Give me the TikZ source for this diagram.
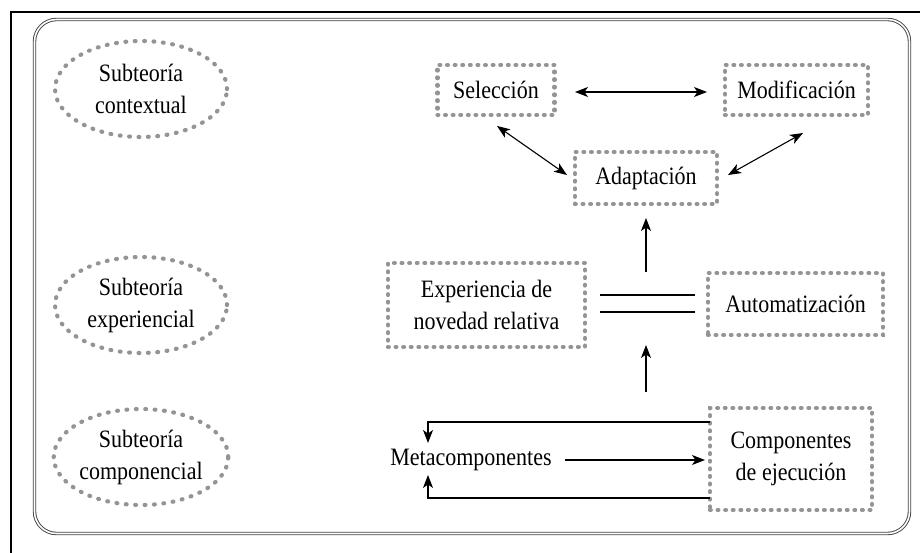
\documentclass[tikz,border=0pt]{standalone}
\usepackage{fontspec}
\setmainfont{Liberation Serif}[FakeStretch=0.88]
\usetikzlibrary{shapes.geometric,arrows.meta}
\begin{document}
\begin{tikzpicture}[x=1pt,y=-1pt,
  dots/.style={draw=black!42, line width=4.2pt, line cap=round, dash pattern=on 0.8pt off 6.8pt},
  oval/.style={ellipse, dots, dash pattern=on 0.8pt off 8.6pt, minimum width=172pt, minimum height=96pt, align=center, inner sep=0pt},
  dbox/.style={rectangle, dots, align=center, inner sep=0pt},
  txt/.style={font=\fontsize{25}{32}\selectfont},
  arr/.style={line width=1.1pt, -{Stealth[length=13pt,width=10pt,inset=3.5pt]}},
  barr/.style={line width=1.1pt, {Stealth[length=13pt,width=10pt,inset=3.5pt]}-{Stealth[length=13pt,width=10pt,inset=3.5pt]}}
]
\useasboundingbox (0,0) rectangle (920,553);
% outer frame
\draw[line width=1.5pt] (10,12) -- (920,12);
\draw[line width=1.5pt] (11,12) -- (11,553);
\draw[double, double distance=1.6pt, line width=0.9pt, draw=black!75, rounded corners=22pt] (34.5,19.5) rectangle (909.5,533.5);

% ellipses
\node[oval, txt] (e1) at (141,89) {Subteoría\\contextual};
\node[oval, txt] (e2) at (141,305) {Subteoría\\experiencial};
\node[oval, txt] (e3) at (141,457) {Subteoría\\componencial};

% boxes
\node[dbox, txt, minimum width=117pt, minimum height=50pt] (sel) at (496,90) {Selección};
\node[dbox, txt, minimum width=143pt, minimum height=50pt] (mod) at (796.5,90) {Modificación};
\node[dbox, txt, minimum width=142pt, minimum height=52pt] (ada) at (646,178) {Adaptación};
\node[dbox, txt, minimum width=197pt, minimum height=84pt] (exp) at (486.5,305) {Experiencia de\\novedad relativa};
\node[dbox, txt, minimum width=175pt, minimum height=62pt] (aut) at (795.5,304) {Automatización};
\node[dbox, txt, minimum width=162pt, minimum height=102pt] (comp) at (791,459) {Componentes\\de ejecución};
\node[txt, inner sep=0pt] (meta) at (471,460) {Metacomponentes};

% coordinates
\coordinate (sm1) at (575,92);
\coordinate (sm2) at (707,92);
\coordinate (sa1) at (497,126);
\coordinate (sa2) at (567,175);
\coordinate (ma1) at (803,133);
\coordinate (ma2) at (728,175);
\coordinate (v1a) at (646,272);
\coordinate (v1b) at (646,218);
\coordinate (v2a) at (646,392);
\coordinate (v2b) at (646,345);
\coordinate (d1a) at (600,295);
\coordinate (d1b) at (695,295);
\coordinate (d2a) at (600,312);
\coordinate (d2b) at (695,312);
\coordinate (mc1) at (565,460);
\coordinate (mc2) at (705,460);
\coordinate (f1a) at (710,422);
\coordinate (f1b) at (428,443);
\coordinate (f2a) at (710,498);
\coordinate (f2b) at (428,475);

% connectors
\draw[barr] (sm1) -- (sm2);
\draw[barr] (sa1) -- (sa2);
\draw[barr] (ma1) -- (ma2);
\draw[arr] (v1a) -- (v1b);
\draw[arr] (v2a) -- (v2b);
\draw[line width=1.1pt] (d1a) -- (d1b);
\draw[line width=1.1pt] (d2a) -- (d2b);
\draw[arr] (mc1) -- (mc2);
\draw[arr] (f1a) -| (f1b);
\draw[arr] (f2a) -| (f2b);
\end{tikzpicture}
\end{document}
